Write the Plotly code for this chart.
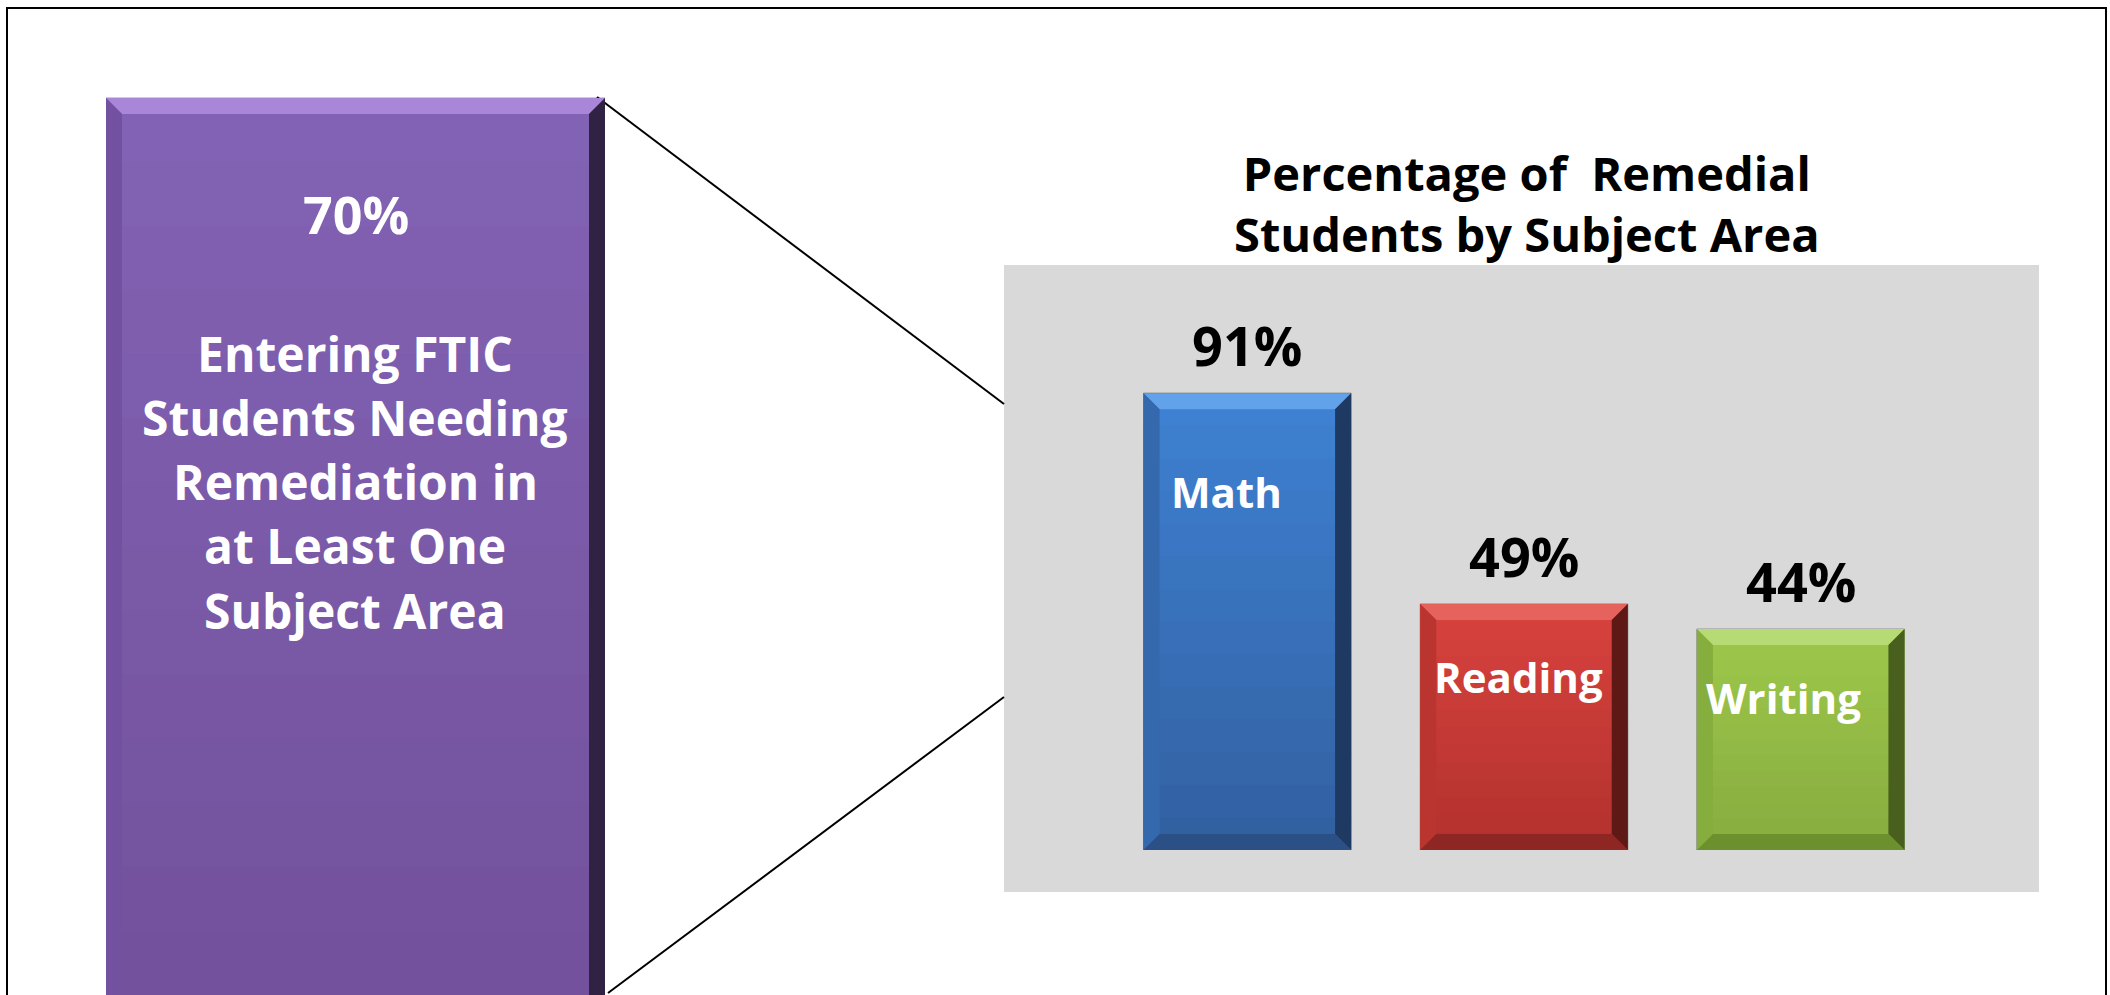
import plotly.graph_objects as go

# ---------------- data ----------------
overall_value = [70]
overall_label = ["Entering FTIC", "Students Needing", "Remediation in", "at Least One", "Subject Area"]
subjects = ["Math", "Reading", "Writing"]
subject_values = [91, 49, 44]
chart_title = ["Percentage of  Remedial", "Students by Subject Area"]

# ---------------- styling ----------------
W, H = 2110, 995
FONT = "Open Sans"
body = ["#3a72bb", "#c83b37", "#91bb44"]
grad_top = ["#3e80d1", "#d7423d", "#9dc74b"]
grad_bot = ["#3261a2", "#b3322e", "#87ad3f"]
light = ["#62a2ea", "#e6625d", "#b6da74"]
dark = ["#1f3a62", "#5e1816", "#485f1e"]
leftc = ["#3569ad", "#ba3430", "#86ae3e"]
botc = ["#2b5086", "#8e2723", "#6d902f"]
purple_body, purple_light, purple_dark, purple_left = "#7a56a5", "#a986d8", "#2f2242", "#7251a1"
purple_top, purple_bot = "#8262b4", "#73519c"
label_dx = [-21, -6, -17]     # px offsets of inside labels
label_dy = [-98, -72, -68]
N_STRIPS = 14


def px(x):
    return x / W


def py(y):
    return 1 - y / H


def mix(c1, c2, t):
    a = [int(c1[i:i + 2], 16) for i in (1, 3, 5)]
    b = [int(c2[i:i + 2], 16) for i in (1, 3, 5)]
    return "#" + "".join(f"{round(a[k] + (b[k] - a[k]) * t):02x}" for k in range(3))


# bar axis geometry
xa_dom = [px(1109), px(1939)]
ya_dom = [py(850), py(348)]
bar_w = 0.75

fig = go.Figure()
fig.add_trace(go.Bar(
    x=list(range(len(subjects))), y=subject_values, width=bar_w,
    marker=dict(color=body, line=dict(color="rgba(90,90,90,0.7)", width=1)),
    hoverinfo="skip", showlegend=False, xaxis="x", yaxis="y"))

# purple overall bar
y2_top = 70 * H / (H - 98)
fig.add_trace(go.Bar(
    x=[0], y=overall_value, width=1,
    marker=dict(color=purple_body, line=dict(color="rgba(90,90,90,0.6)", width=1)),
    hoverinfo="skip", showlegend=False, xaxis="x2", yaxis="y2"))

shapes = []
# frame
shapes.append(dict(type="rect", xref="paper", yref="paper", x0=px(7), x1=px(2106), y0=py(1010), y1=py(8),
                   line=dict(color="black", width=2), fillcolor="rgba(0,0,0,0)", layer="below"))
# gray panel
shapes.append(dict(type="rect", xref="paper", yref="paper", x0=px(1004), x1=px(2039), y0=py(892), y1=py(265),
                   line=dict(width=0), fillcolor="#d9d9d9", layer="below"))
# connector lines
shapes.append(dict(type="line", xref="paper", yref="paper", x0=px(597), y0=py(97), x1=px(1004), y1=py(404),
                   line=dict(color="black", width=2)))
shapes.append(dict(type="line", xref="paper", yref="paper", x0=px(608), y0=py(993), x1=px(1004), y1=py(697),
                   line=dict(color="black", width=2)))


def poly(pts, xr, yr, color):
    d = "M " + " L ".join(f"{a},{b}" for a, b in pts) + " Z"
    return dict(type="path", path=d, xref=xr, yref=yr, fillcolor=color, line=dict(width=0), layer="above")


def strips(x0, x1, ytop, ybot, ctop, cbot, xr, yr):
    out = []
    step = (ytop - ybot) / N_STRIPS
    for k in range(N_STRIPS):
        hi = ytop - k * step
        lo = hi - step * 1.05
        if k == N_STRIPS - 1:
            lo = ybot
        c = mix(ctop, cbot, k / (N_STRIPS - 1))
        out.append(dict(type="rect", xref=xr, yref=yr, x0=x0, x1=x1, y0=lo, y1=hi,
                        fillcolor=c, line=dict(width=0), layer="above"))
    return out


# bevels for subject bars (derived from data)
ppu_y = (850 - 348) / 100.0
ppu_x = (1939 - 1109) / 3.0
bev = 16
dy = bev / ppu_y
dx = bev / ppu_x
for i, v in enumerate(subject_values):
    x0, x1 = i - bar_w / 2, i + bar_w / 2
    shapes += strips(x0, x1, v, 0, grad_top[i], grad_bot[i], "x", "y")
    shapes.append(poly([(x0, v), (x1, v), (x1 - dx, v - dy), (x0 + dx, v - dy)], "x", "y", light[i]))
    shapes.append(poly([(x1, v), (x1, 0), (x1 - dx, dy), (x1 - dx, v - dy)], "x", "y", dark[i]))
    shapes.append(poly([(x0, v), (x0 + dx, v - dy), (x0 + dx, dy), (x0, 0)], "x", "y", leftc[i]))
    shapes.append(poly([(x0, 0), (x0 + dx, dy), (x1 - dx, dy), (x1, 0)], "x", "y", botc[i]))

# bevels for the purple bar
p_ppu_y = H / y2_top
p_ppu_x = 605 - 106
pdy = bev / p_ppu_y
pdx = bev / p_ppu_x
pv = overall_value[0]
shapes += strips(-0.5, 0.5, pv, 0, purple_top, purple_bot, "x2", "y2")
shapes.append(poly([(-0.5, pv), (0.5, pv), (0.5 - pdx, pv - pdy), (-0.5 + pdx, pv - pdy)], "x2", "y2", purple_light))
shapes.append(poly([(0.5, pv), (0.5, -5), (0.5 - pdx, -5), (0.5 - pdx, pv - pdy)], "x2", "y2", purple_dark))
shapes.append(poly([(-0.5, pv), (-0.5 + pdx, pv - pdy), (-0.5 + pdx, -5), (-0.5, -5)], "x2", "y2", purple_left))

annotations = []
# title
annotations.append(dict(text="<b>" + "<br>".join(chart_title) + "</b>", x=px(1527), y=py(203), xref="paper", yref="paper",
                        showarrow=False, font=dict(family=FONT, size=47, color="black"), xanchor="center", yanchor="middle"))
# value labels
for i, v in enumerate(subject_values):
    annotations.append(dict(text=f"<b>{v}%</b>", x=i, y=v, xref="x", yref="y", showarrow=False,
                            yshift=48, font=dict(family=FONT, size=54, color="black"),
                            xanchor="center", yanchor="middle"))
    annotations.append(dict(text=f"<b>{subjects[i]}</b>", x=i, y=v, xref="x", yref="y", showarrow=False,
                            xshift=label_dx[i], yshift=label_dy[i], font=dict(family=FONT, size=42, color="white"),
                            xanchor="center", yanchor="middle"))
# purple bar texts
annotations.append(dict(text=f"<b>{overall_value[0]}%</b>", x=0, y=overall_value[0], xref="x2", yref="y2",
                        showarrow=False, yshift=-115, font=dict(family=FONT, size=52, color="white"),
                        xanchor="center", yanchor="middle"))
line_y = [353, 417, 481, 545, 610]
for t, yy in zip(overall_label, line_y):
    annotations.append(dict(text=f"<b>{t}</b>", x=px(355), y=py(yy), xref="paper", yref="paper", showarrow=False,
                            font=dict(family=FONT, size=48, color="white"), xanchor="center", yanchor="middle"))

fig.update_layout(
    width=W, height=H, autosize=False,
    margin=dict(l=0, r=0, t=0, b=0, pad=0),
    paper_bgcolor="white", plot_bgcolor="rgba(0,0,0,0)",
    xaxis=dict(domain=xa_dom, range=[-0.5, 2.5], visible=False, fixedrange=True),
    yaxis=dict(domain=ya_dom, range=[0, 100], visible=False, fixedrange=True),
    xaxis2=dict(domain=[px(106), px(605)], range=[-0.5, 0.5], visible=False, anchor="y2", fixedrange=True),
    yaxis2=dict(domain=[0, 1], range=[0, y2_top], visible=False, anchor="x2", fixedrange=True),
    shapes=shapes, annotations=annotations, showlegend=False,
)

fig.write_html("out.html")
